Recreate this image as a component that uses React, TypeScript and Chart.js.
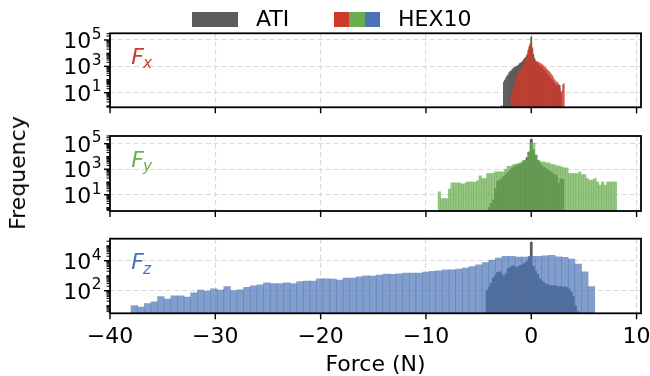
import React, { useEffect, useRef } from 'react';
import { Chart, registerables } from 'chart.js';

Chart.register(...registerables);

const FONT = "'DejaVu Sans', 'Liberation Sans', sans-serif";
const FS = 22;

// ---------------- data ----------------
const FORCE_MIN = -40;
const FORCE_MAX = 10.42;
const FORCE_TICKS = [-40, -30, -20, -10, 0, 10];
const LEGEND_LABELS = ['ATI', 'HEX10'];
const X_TITLE = 'Force (N)';
const Y_TITLE = 'Frequency';

// Fx histograms (bin start, bin width, counts)
const FX_ATI_START = -2.85;
const FX_ATI_BIN = 0.1;
const FX_ATI_COUNTS = [1, null, 63, 90, 126, 180, 220, 320, 400, 450, 560, 700, 800, 900, 1000, 1100, 1250, 1600, 1800, 2000, 2500, 3200, 4000, 5000, 7000, 10000, 20000, 40000, 170000, 25000, 8000, 4000, 2500, 2000, 1600, 1250, 1000, 900, 800, 630, 500, 400, 320, 250, 200, 160, 126, 100, 80, 63, 50, 40, 32, 32, 40, 35, 10];
const FX_HEX_START = -1.95;
const FX_HEX_BIN = 0.1;
const FX_HEX_COUNTS = [7, 13, 23, 35, 75, 150, 220, 320, 500, 630, 900, 1250, 1600, 2000, 3200, 5600, 16000, 32000, 50000, 63000, 16000, 5000, 2800, 2400, 2300, 2200, 2000, 1800, 1600, 1400, 1250, 1000, 850, 700, 560, 470, 400, 320, 250, 200, 140, 100, 80, 56, 63, 40, 22, 8, 13, 40, 50];

// Fy histograms
const FY_ATI_START = -4.1;
const FY_ATI_BIN = 0.2;
const FY_ATI_COUNTS = [1, 2, 4, 30, 110, 140, 180, 280, 380, 560, 830, 1200, 1600, 1900, 2300, 2600, 3500, 4800, 8000, 22000, 220000, 32000, 12600, 5000, 3200, 2000, 1400, 1100, 900, 660, 500, 400, 320, 80, 180, 160];
const FY_HEX_START = -8.85;
const FY_HEX_BIN = 0.2423;
const FY_HEX_COUNTS = [17, 5, 5, 5, 28, 85, 85, 85, 85, 68, 76, 100, 100, 100, 95, 123, 300, 186, 186, 457, 457, 457, 617, 617, 617, 617, 1000, 1700, 1700, 2300, 2500, 2750, 3300, 5000, 5000, 22000, 112000, 112000, 12600, 5000, 3700, 3700, 3100, 3100, 2300, 2300, 1800, 1800, 1500, 1260, 1260, 457, 457, 457, 457, 617, 380, 380, 186, 138, 138, 186, 100, 56, 100, 56, 100, 100, 100, 100];

// Fz histograms
const FZ_ATI_START = -4.3;
const FZ_ATI_BIN = 0.2;
const FZ_ATI_COUNTS = [100, 180, 320, 700, 1100, 1650, 1800, 1400, 900, 1400, 2800, 3500, 4500, 4200, 3500, 4000, 5000, 5600, 7000, 9000, 18000, 170000, 4000, 2000, 1250, 630, 450, 350, 280, 250, 220, 200, 220, 200, 180, 190, 165, 180, 160, 126, 80, 40, 10, 4];
const FZ_HEX_START = -38.0;
const FZ_HEX_BIN = 0.629;
const FZ_HEX_COUNTS = [10, 8, 14, 18, 40, 28, 45, 45, 38, 71, 112, 95, 135, 112, 186, 100, 115, 165, 214, 250, 340, 295, 295, 340, 295, 400, 436, 436, 630, 630, 600, 515, 700, 700, 850, 1000, 950, 1120, 1300, 1250, 1350, 1500, 1500, 1500, 1780, 1950, 2150, 2500, 2500, 2800, 3250, 4000, 5400, 7400, 11000, 15000, 19500, 19500, 17700, 17700, 19500, 20000, 21500, 22500, 18500, 17000, 13000, 6000, 1850, 186];

// y ranges and labelled decades
const FX_Y_RANGE = [0.78, 3.2e5];
const FY_Y_RANGE = [0.53, 4.0e5];
const FZ_Y_RANGE = [3.1, 2.95e5];
const FX_Y_LABEL_EXPS = [1, 3, 5];
const FY_Y_LABEL_EXPS = [1, 3, 5];
const FZ_Y_LABEL_EXPS = [2, 4];

// ---------------- styles ----------------
const ATI_COLOR = 'rgb(92,92,92)';
const RED = [205, 58, 42];
const GREEN = [106, 172, 80];
const BLUE = [76, 117, 182];
const HEX_ALPHA = 0.7;
const GRID = '#dadada';
const rgb = (c: number[]) => `rgb(${c[0]},${c[1]},${c[2]})`;
const rgba = (c: number[], a: number) => `rgba(${c[0]},${c[1]},${c[2]},${a})`;

function toBars(start: number, bin: number, counts: (number | null)[]) {
  return counts.map((c, i) => ({ x: start + bin * (i + 0.5), y: c }));
}

function labelExp(v: number, exps: number[]): number | null {
  for (const e of exps) {
    const p = Math.pow(10, e);
    if (Math.abs(v - p) < 1e-6 * p) return e;
  }
  return null;
}

function logTicks(min: number, max: number) {
  const out: { value: number }[] = [];
  for (let e = Math.floor(Math.log10(min)); e <= Math.ceil(Math.log10(max)); e++) {
    for (let k = 1; k <= 9; k++) {
      const v = k * Math.pow(10, e);
      if (v >= min && v <= max) out.push({ value: v });
    }
  }
  return out;
}

const fmtForce = (v: number) => (v < 0 ? '\u2212' + Math.abs(v) : String(v));

const decorPlugin = {
  id: 'decor',
  afterDraw(chart: any, _args: any, opts: any) {
    const { ctx, chartArea: a } = chart;
    const ys = chart.scales.y;
    const xs = chart.scales.x;
    ctx.save();
    ctx.strokeStyle = '#000';
    ys.ticks.forEach((t: any) => {
      const p = ys.getPixelForValue(t.value);
      const major = labelExp(t.value, opts.labelExps) !== null;
      ctx.lineWidth = major ? 1.4 : 1.0;
      const len = major ? 6 : 3.5;
      ctx.beginPath();
      ctx.moveTo(a.left - len, p);
      ctx.lineTo(a.left, p);
      ctx.stroke();
    });
    FORCE_TICKS.forEach((v) => {
      const p = xs.getPixelForValue(v);
      ctx.lineWidth = 1.4;
      ctx.beginPath();
      ctx.moveTo(p, a.bottom);
      ctx.lineTo(p, a.bottom + 6);
      ctx.stroke();
    });
    ctx.lineWidth = 1.8;
    ctx.strokeRect(a.left, a.top, a.right - a.left, a.bottom - a.top);

    // y tick labels: 10 with superscript exponent
    ctx.fillStyle = '#000';
    ctx.textBaseline = 'alphabetic';
    ctx.textAlign = 'left';
    const right = a.left - 8.5;
    opts.labelExps.forEach((e: number) => {
      const p = ys.getPixelForValue(Math.pow(10, e));
      ctx.font = `${FS * 0.7}px ${FONT}`;
      const es = String(e);
      const we = ctx.measureText(es).width;
      ctx.font = `${FS}px ${FONT}`;
      const wb = ctx.measureText('10').width;
      const base = p + 0.729 * FS / 2;
      ctx.fillText('10', right - we - wb - 0.5, base);
      ctx.font = `${FS * 0.7}px ${FONT}`;
      ctx.fillText(es, right - we, base - 0.42 * FS);
    });

    // panel label F_sub
    ctx.fillStyle = opts.labelColor;
    const x0 = a.left + 0.04 * (a.right - a.left);
    const y0 = a.top + 0.41 * (a.bottom - a.top);
    ctx.font = `italic ${FS}px ${FONT}`;
    ctx.fillText('F', x0, y0);
    const w = ctx.measureText('F').width;
    ctx.font = `italic ${FS * 0.7}px ${FONT}`;
    ctx.fillText(opts.sub, x0 + w - 1, y0 + 4.5);
    ctx.restore();
  },
};

type PanelProps = {
  sub: string;
  color: number[];
  atiStart: number; atiBin: number; atiCounts: (number | null)[];
  hexStart: number; hexBin: number; hexCounts: (number | null)[];
  yRange: number[];
  labelExps: number[];
  showX: boolean;
  top: number; height: number; padTop: number; axisH: number;
};

function Panel(p: PanelProps) {
  const ref = useRef<HTMLCanvasElement>(null);
  useEffect(() => {
    const [yMin, yMax] = p.yRange;
    const chart = new Chart(ref.current as HTMLCanvasElement, {
      type: 'bar',
      data: {
        datasets: [
          {
            label: LEGEND_LABELS[1],
            data: toBars(p.hexStart, p.hexBin, p.hexCounts) as any,
            xAxisID: 'x',
            backgroundColor: rgba(p.color, HEX_ALPHA),
            borderWidth: 0,
            barPercentage: 1,
            categoryPercentage: 1,
            grouped: false,
            order: 0,
          },
          {
            label: LEGEND_LABELS[0],
            data: toBars(p.atiStart, p.atiBin, p.atiCounts) as any,
            xAxisID: 'xa',
            backgroundColor: ATI_COLOR,
            borderWidth: 0,
            barPercentage: 1,
            categoryPercentage: 1,
            grouped: false,
            order: 1,
          },
        ],
      },
      options: {
        responsive: false,
        animation: false,
        devicePixelRatio: 1,
        layout: { padding: { top: p.padTop, right: 9, left: 0, bottom: 0 } },
        plugins: {
          legend: { display: false },
          tooltip: { enabled: false },
          decor: { labelExps: p.labelExps, labelColor: rgb(p.color), sub: p.sub },
        } as any,
        scales: {
          x: {
            type: 'linear',
            min: FORCE_MIN,
            max: FORCE_MAX,
            offset: false,
            afterBuildTicks: (s: any) => { s.ticks = FORCE_TICKS.map((v) => ({ value: v })); },
            afterFit: (s: any) => { s.height = p.axisH; s.paddingLeft = 0; s.paddingRight = 0; },
            grid: { color: GRID, lineWidth: 1.1, drawTicks: false, offset: false },
            border: { display: false, dash: [5, 3] },
            ticks: {
              display: p.showX,
              autoSkip: false,
              maxRotation: 0,
              padding: 10.5,
              color: '#000',
              font: { family: FONT, size: FS },
              callback: (v: any) => fmtForce(Number(v)),
            },
            title: {
              display: p.showX,
              text: X_TITLE,
              color: '#000',
              font: { family: FONT, size: FS },
              padding: { top: 0, bottom: 0 },
            },
          } as any,
          xa: { type: 'linear', min: FORCE_MIN, max: FORCE_MAX, offset: false, display: false, grid: { offset: false } } as any,
          y: {
            type: 'logarithmic',
            min: yMin,
            max: yMax,
            afterBuildTicks: (s: any) => { s.ticks = logTicks(yMin, yMax); },
            afterFit: (s: any) => { s.width = 110; s.paddingTop = 0; s.paddingBottom = 0; },
            grid: {
              drawTicks: false,
              lineWidth: 1.1,
              color: (c: any) => (c.tick && labelExp(c.tick.value, p.labelExps) !== null ? GRID : 'rgba(0,0,0,0)'),
            },
            border: { display: false, dash: [5, 3] },
            ticks: { display: false, autoSkip: false },
          } as any,
        },
      },
      plugins: [decorPlugin as any],
    });
    return () => chart.destroy();
  }, []);
  return (
    <canvas
      ref={ref}
      width={650}
      height={p.height}
      style={{ position: 'absolute', left: 0, top: p.top, width: 650, height: p.height }}
    />
  );
}

export default function App() {
  const textStyle: React.CSSProperties = {
    position: 'absolute',
    font: `${FS}px ${FONT}`,
    color: '#000',
    whiteSpace: 'nowrap',
    lineHeight: '1',
  };
  return (
    <div style={{ position: 'absolute', left: 0, top: 0, width: 650, height: 376, background: '#fff', overflow: 'hidden' }}>
      <Panel sub="x" color={RED} atiStart={FX_ATI_START} atiBin={FX_ATI_BIN} atiCounts={FX_ATI_COUNTS}
        hexStart={FX_HEX_START} hexBin={FX_HEX_BIN} hexCounts={FX_HEX_COUNTS}
        yRange={FX_Y_RANGE} labelExps={FX_Y_LABEL_EXPS} showX={false}
        top={0} height={120} padTop={33.3} axisH={12.7} />
      <Panel sub="y" color={GREEN} atiStart={FY_ATI_START} atiBin={FY_ATI_BIN} atiCounts={FY_ATI_COUNTS}
        hexStart={FY_HEX_START} hexBin={FY_HEX_BIN} hexCounts={FY_HEX_COUNTS}
        yRange={FY_Y_RANGE} labelExps={FY_Y_LABEL_EXPS} showX={false}
        top={123} height={100} padTop={13} axisH={12} />
      <Panel sub="z" color={BLUE} atiStart={FZ_ATI_START} atiBin={FZ_ATI_BIN} atiCounts={FZ_ATI_COUNTS}
        hexStart={FZ_HEX_START} hexBin={FZ_HEX_BIN} hexCounts={FZ_HEX_COUNTS}
        yRange={FZ_Y_RANGE} labelExps={FZ_Y_LABEL_EXPS} showX={true}
        top={226} height={152} padTop={12.7} axisH={64.7} />

      {/* legend */}
      <div style={{ position: 'absolute', left: 192, top: 11.5, width: 46, height: 15, background: ATI_COLOR }} />
      <div style={{ ...textStyle, left: 256, top: 19, transform: 'translateY(-50%)' }}>{LEGEND_LABELS[0]}</div>
      <div style={{ position: 'absolute', left: 334, top: 11.5, width: 15.4, height: 15, background: rgb(RED) }} />
      <div style={{ position: 'absolute', left: 349.4, top: 11.5, width: 15.3, height: 15, background: rgb(GREEN) }} />
      <div style={{ position: 'absolute', left: 364.7, top: 11.5, width: 15.3, height: 15, background: rgb(BLUE) }} />
      <div style={{ ...textStyle, left: 398, top: 19, transform: 'translateY(-50%)' }}>{LEGEND_LABELS[1]}</div>

      {/* shared y label */}
      <div style={{ ...textStyle, left: 18, top: 173, transform: 'translate(-50%,-50%) rotate(-90deg)' }}>{Y_TITLE}</div>
    </div>
  );
}
